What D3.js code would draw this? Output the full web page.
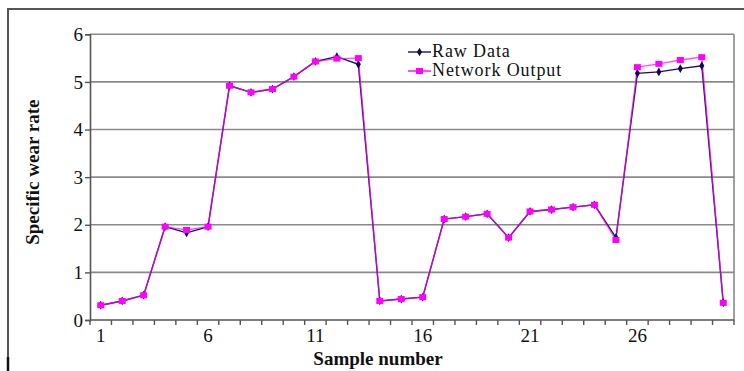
<!DOCTYPE html>
<html>
<head>
<meta charset="utf-8">
<script src="https://cdn.jsdelivr.net/npm/d3@7"></script>
<style>
html,body{margin:0;padding:0;background:#fff;}
svg{display:block;}
text{font-family:"Liberation Serif","DejaVu Serif",serif;fill:#111;}
</style>
</head>
<body>
<svg id="chart" width="744" height="371"></svg>
<script>
const samples = d3.range(1, 31);
const rawData = [0.31,0.40,0.52,1.96,1.83,1.96,4.92,4.78,4.85,5.11,5.43,5.53,5.37,0.40,0.44,0.48,2.12,2.17,2.23,1.73,2.28,2.32,2.37,2.42,1.73,5.18,5.21,5.28,5.34,0.36];
const networkOutput = [0.31,0.40,0.52,1.96,1.89,1.96,4.92,4.78,4.85,5.11,5.43,5.49,5.50,0.40,0.44,0.48,2.12,2.17,2.23,1.73,2.28,2.32,2.37,2.42,1.68,5.31,5.38,5.46,5.52,0.36];
const yTicks = [0,1,2,3,4,5,6];
const xTickLabels = [1,6,11,16,21,26];
const seriesNames = ["Raw Data","Network Output"];

const svg = d3.select("#chart");
const m = {left:90, right:734, top:34.3, bottom:320};

const x = d3.scaleBand().domain(samples).range([m.left, m.right]).paddingInner(0).paddingOuter(0);
const y = d3.scaleLinear().domain([0,6]).range([m.bottom, m.top]);
const cx = d => x(d) + x.bandwidth()/2;

// outer frame
svg.append("line").attr("x1",8).attr("x2",744).attr("y1",9).attr("y2",9).attr("stroke","#555").attr("stroke-width",2);
svg.append("line").attr("x1",8).attr("x2",8).attr("y1",8).attr("y2",371).attr("stroke","#555").attr("stroke-width",2);
svg.append("line").attr("x1",8).attr("x2",8).attr("y1",357).attr("y2",371).attr("stroke","#111").attr("stroke-width",2.5);

// gridlines
svg.append("g").selectAll("line").data(yTicks.filter(d=>d>0)).join("line")
  .attr("x1",m.left).attr("x2",m.right).attr("y1",d=>y(d)).attr("y2",d=>y(d))
  .attr("stroke","#8a8a8a").attr("stroke-width",1.6);
// right border
svg.append("line").attr("x1",m.right).attr("x2",m.right).attr("y1",m.top).attr("y2",m.bottom)
  .attr("stroke","#8a8a8a").attr("stroke-width",1.6);

// y axis
const yAxis = d3.axisLeft(y).tickValues(yTicks).tickSize(5).tickPadding(2).tickFormat(d3.format("d"));
const gy = svg.append("g").attr("transform",`translate(${m.left},0)`).call(yAxis);
gy.select(".domain").attr("stroke","#555").attr("stroke-width",1.6);
gy.selectAll(".tick line").attr("stroke","#555").attr("stroke-width",1.4);
gy.selectAll(".tick text").style("font-size","19px").style("font-family","Liberation Serif, serif").attr("fill","#222");

// x axis: ticks at category boundaries
const boundaries = samples.map(d => x(d)).concat([m.right]);
const gx = svg.append("g");
gx.append("line").attr("x1",m.left).attr("x2",m.right).attr("y1",m.bottom).attr("y2",m.bottom)
  .attr("stroke","#555").attr("stroke-width",1.6);
gx.selectAll("line.t").data(boundaries).join("line").attr("class","t")
  .attr("x1",d=>d).attr("x2",d=>d).attr("y1",m.bottom).attr("y2",m.bottom+5)
  .attr("stroke","#555").attr("stroke-width",1.4);
gx.selectAll("text").data(xTickLabels).join("text")
  .attr("x",d=>cx(d)).attr("y",m.bottom+22).attr("text-anchor","middle")
  .style("font-size","19px").attr("fill","#222").text(d=>d);

// axis titles
svg.append("text").attr("transform",`translate(39,${(m.top+m.bottom)/2 - 5}) rotate(-90)`)
  .attr("text-anchor","middle").style("font-size","19px").style("font-weight","bold").text("Specific wear rate");
svg.append("text").attr("x",378).attr("y",365).attr("text-anchor","middle")
  .style("font-size","19px").style("font-weight","bold").text("Sample number");

// lines
const line = d3.line().x((d,i)=>cx(samples[i])).y(d=>y(d));
svg.append("path").datum(rawData).attr("d",line).attr("fill","none").attr("stroke","#1a1060").attr("stroke-width",1.4);
svg.append("path").datum(networkOutput).attr("d",line).attr("fill","none").attr("stroke","#ff00ff").attr("stroke-width",1.4).attr("stroke-opacity",0.7);

// raw markers (diamonds)
const diamond = d3.symbol().type(d3.symbolDiamond).size(22);
svg.append("g").selectAll("path").data(rawData).join("path")
  .attr("d",diamond).attr("transform",(d,i)=>`translate(${cx(samples[i])},${y(d)})`)
  .attr("fill","#0a0a50");
// network markers (squares)
svg.append("g").selectAll("rect").data(networkOutput).join("rect")
  .attr("x",(d,i)=>cx(samples[i])-3.5).attr("y",d=>y(d)-3).attr("width",7).attr("height",6)
  .attr("fill","#ff00ff");

// legend
const lg = svg.append("g");
const legendRows = [{name:seriesNames[0], y:52, color:"#1a1060", marker:"d"},{name:seriesNames[1], y:71, color:"#ff00ff", marker:"s"}];
legendRows.forEach(r=>{
  lg.append("line").attr("x1",408).attr("x2",431).attr("y1",r.y).attr("y2",r.y).attr("stroke",r.color).attr("stroke-width",1.4);
  if(r.marker==="d"){
    lg.append("path").attr("d",diamond).attr("transform",`translate(419.5,${r.y})`).attr("fill","#0a0a50");
  } else {
    lg.append("rect").attr("x",416).attr("y",r.y-3).attr("width",7).attr("height",6).attr("fill","#ff00ff");
  }
  lg.append("text").attr("x",432).attr("y",r.y+5).style("font-size","18px").style("letter-spacing","0.9px").attr("fill","#111").text(r.name);
});
</script>
</body>
</html>
